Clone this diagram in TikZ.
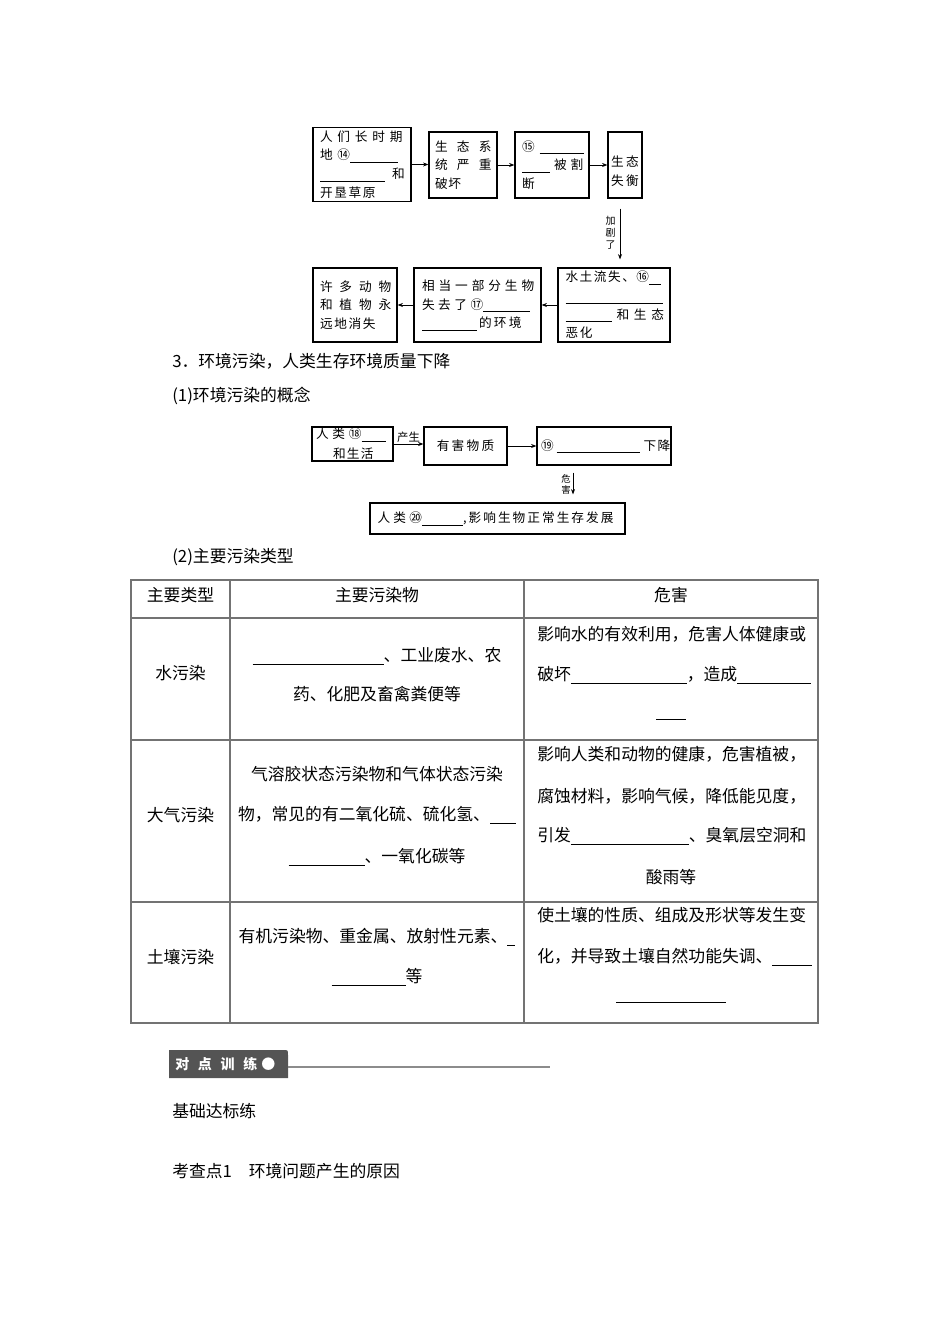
\documentclass[tikz,border=0pt]{standalone}
\usepackage{fontspec}
\setmainfont{Noto Sans CJK SC}
\usetikzlibrary{arrows.meta,positioning}
\newdimen\pxu \pxu=0.75pt
\newcommand{\blank}[1]{\rule[-2pt]{#1\pxu}{0.5pt}}
\newcommand{\ls}[2]{{\addfontfeature{LetterSpace=#1}#2}}

\begin{document}
\begin{tikzpicture}[x=0.75pt,y=-0.75pt,
    flow/.style={draw,line width=0.9pt,inner sep=0pt,align=left,
                 font=\fontsize{9.5}{14}\selectfont},
    arr/.style={-{Stealth[length=4pt,width=3pt]},line width=0.5pt},
    tag/.style={align=center,inner sep=1pt,font=\fontsize{7.5}{9}\selectfont},
    body/.style={anchor=west,inner sep=0pt,font=\fontsize{12.6}{15}\selectfont},
    cell/.style={inner sep=0pt,font=\fontsize{12.6}{15}\selectfont},
    cellw/.style={cell,anchor=west},
    tline/.style={line width=1.3pt,black!55}]
  \useasboundingbox (0,0) rectangle (950,1344);

  % causes of imbalance
  \node[flow,minimum width=73.5pt,minimum height=55.5pt,text width=63pt] (long) at (362,164.5)
    {\mbox{\ls{38}{人们长时期}}\\ \mbox{\ls{38}{地⑭}\blank{48}}\\
     \mbox{\blank{65}\hspace{7\pxu}和}\\ \mbox{\ls{13}{开垦草原}}};
  \node[flow,minimum width=51pt,minimum height=49.5pt,text width=42pt] (ecobroken) at (463,165)
    {\mbox{\ls{73}{生态系}}\\ \mbox{\ls{73}{统严重}}\\ \mbox{\ls{5}{破坏}}};
  \node[flow,minimum width=55.5pt,minimum height=49.5pt,text width=45pt] (cutoff) at (552,165)
    {\mbox{⑮\hspace{5\pxu}\blank{44}}\\ \mbox{\blank{28}\hspace{4\pxu}\ls{31}{被割}}\\ 断};
  \node[flow,minimum width=25.5pt,minimum height=49.5pt,text width=21pt] (imbalance) at (625,165)
    {\mbox{\rule{0pt}{17pt}\ls{20}{生态}}\\ \mbox{\ls{20}{失衡}}};

  \node[flow,minimum width=84pt,minimum height=55.5pt,text width=72.75pt] (erosion) at (614,305)
    {\mbox{\ls{12}{水土流失、⑯}\blank{12}}\\ \mbox{\blank{97}}\\
     \mbox{\blank{46}\hspace{5\pxu}\ls{38}{和生态}}\\ \mbox{\ls{13}{恶化}}};
  \node[flow,minimum width=95.25pt,minimum height=55.5pt,text width=83.25pt] (habitat) at (477.5,305)
    {\mbox{\ls{31}{相当一部分生物}}\\ \mbox{\ls{28}{失去了⑰}\blank{47}}\\
     \mbox{\blank{55}\hspace{2\pxu}\ls{18}{的环境}}};
  \node[flow,minimum width=63pt,minimum height=55.5pt,text width=52.5pt] (extinct) at (355,305)
    {\mbox{\ls{54}{许多动物}}\\ \mbox{\ls{54}{和植物永}}\\ \mbox{\ls{13}{远地消失}}};

  \draw[arr] (long.east) -- (long.east -| ecobroken.west);
  \draw[arr] (ecobroken.east) -- (cutoff.west);
  \draw[arr] (cutoff.east) -- (imbalance.west);
  \draw[arr,shorten <=7.5pt,shorten >=6pt] ([xshift=-3.75pt]imbalance.south)
    -- ([xshift=-3.75pt]imbalance.south |- erosion.north)
    node[tag,midway,left=2pt] (aggr) {加\\剧\\了};
  \draw[arr] (erosion.west) -- (habitat.east);
  \draw[arr] (habitat.west) -- (extinct.east);

  \node[body] (sec3) at (172,361) {3．环境污染，人类生存环境质量下降};
  \node[body] (concept) at (172,396) {(1)环境污染的概念};

  % pollution concept
  \node[flow,minimum width=60.75pt,minimum height=25.5pt,text width=54.75pt,
        font=\fontsize{9.5}{15}\selectfont] (human) at (352.5,444)
    {\mbox{\ls{30}{人类⑱}\blank{24}}\\ \mbox{\hspace{17\pxu}\ls{10}{和生活}}};
  \node[flow,minimum width=62.25pt,minimum height=28.5pt,align=center] (harm) at (465.5,446)
    {\ls{18}{有害物质}};
  \node[flow,minimum width=100.5pt,minimum height=28.5pt,text width=94.5pt] (quality) at (604,446)
    {\mbox{⑲\hspace{3\pxu}\blank{83}\hspace{4\pxu}\ls{10}{下降}}};
  \node[flow,minimum width=191.25pt,minimum height=23.25pt,text width=180pt] (impact) at (497.5,518.5)
    {\mbox{\ls{26}{人类⑳}\blank{41}\ls{16}{,影响生物正常生存发展}}};

  \draw[arr] (human.east) -- (human.east -| harm.west)
    node[tag,midway,above=0pt,font=\fontsize{8.5}{10}\selectfont] (produce) {产生};
  \draw[arr] (harm.east) -- (quality.west);
  \draw[arr,shorten <=5.25pt,shorten >=6pt] ([xshift=-23.25pt]quality.south)
    -- ([xshift=-23.25pt]quality.south |- impact.north)
    node[tag,midway,left=0.5pt,font=\fontsize{7}{8.3}\selectfont] (endanger) {危\\害};

  \node[body] (types) at (172,557) {(2)主要污染类型};

  % table
  \draw[tline] (131,580) rectangle (818,1023);
  \draw[tline] (230,580) -- (230,1023);
  \draw[tline] (524,580) -- (524,1023);
  \draw[tline] (131,618) -- (818,618);
  \draw[tline] (131,740) -- (818,740);
  \draw[tline] (131,902) -- (818,902);

  \node[cell] (hd1) at (180.5,595) {主要类型};
  \node[cell] (hd2) at (377,595) {主要污染物};
  \node[cell] (hd3) at (671,595) {危害};

  \node[cell] (water) at (180.5,673) {水污染};
  \node[cell] (water2a) at (377,656) {\blank{131}、工业废水、农};
  \node[cell] (water2b) at (377,694) {药、化肥及畜禽粪便等};
  \node[cellw] (water3a) at (537,634) {影响水的有效利用，危害人体健康或};
  \node[cellw] (water3b) at (537,675) {破坏\blank{116}，造成\blank{74}};
  \node[cell] (water3c) at (671,718) {\blank{30}};

  \node[cell] (air) at (180.5,815) {大气污染};
  \node[cell] (air2a) at (377,774) {气溶胶状态污染物和气体状态污染};
  \node[cell] (air2b) at (377,815) {物，常见的有二氧化硫、硫化氢、\blank{26}};
  \node[cell] (air2c) at (377,857) {\blank{76}、一氧化碳等};
  \node[cellw] (air3a) at (537,754) {影响人类和动物的健康，危害植被，};
  \node[cellw] (air3b) at (537,796) {腐蚀材料，影响气候，降低能见度，};
  \node[cellw] (air3c) at (537,836) {引发\blank{118}、臭氧层空洞和};
  \node[cell] (air3d) at (671,877) {酸雨等};

  \node[cell] (soil) at (180.5,957) {土壤污染};
  \node[cell] (soil2a) at (377,937) {有机污染物、重金属、放射性元素、\blank{8}};
  \node[cell] (soil2b) at (377,977) {\blank{74}等};
  \node[cellw] (soil3a) at (537,915) {使土壤的性质、组成及形状等发生变};
  \node[cellw] (soil3b) at (537,957) {化，并导致土壤自然功能失调、\blank{40}};
  \node[cell] (soil3c) at (671,1001) {\blank{110}};

  % practice banner
  \fill[black!67] (169,1078) -- (169,1050) -- (283,1050)
    .. controls (288,1050) .. (288,1055) -- (288,1078) -- cycle;
  \node[anchor=west,inner sep=0pt,text=white,font=\fontsize{10.5}{12}\selectfont\bfseries]
    (drill) at (175,1064) {\ls{62}{对点训练}\hspace{4\pxu}●};
  \coordinate (tabend) at (288,1067);
  \coordinate (ruleend) at (550,1067);
  \draw[black!45,line width=1.2pt] (tabend) -- (ruleend);

  \node[body] (basic) at (172,1111) {基础达标练};
  \node[body] (point1) at (172,1171) {考查点1　环境问题产生的原因};
\end{tikzpicture}
\end{document}
